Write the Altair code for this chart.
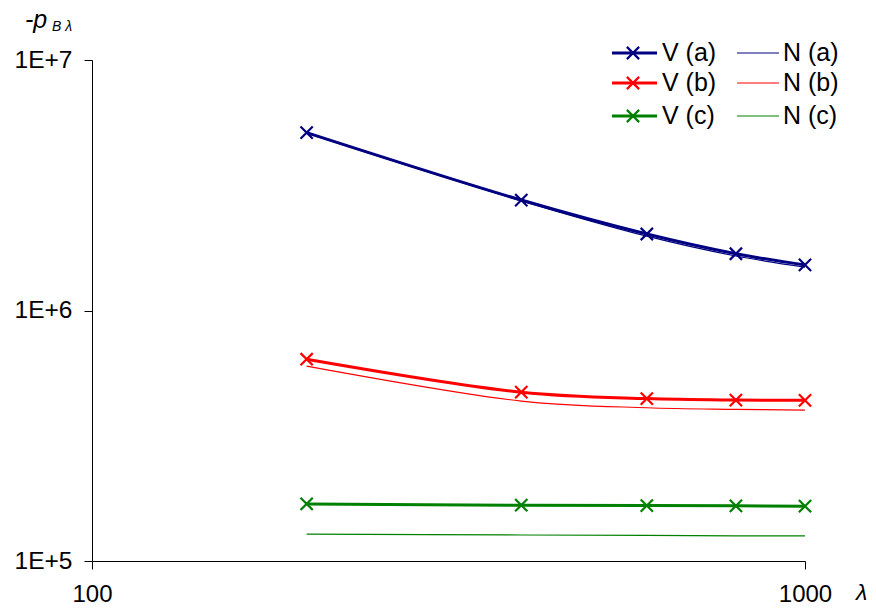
import altair as alt
import pandas as pd

# ---- data ----
lam = [200, 400, 600, 800, 1000]
groups = ["a", "b", "c"]
v_a = [5.13e6, 2.76e6, 2.02e6, 1.685e6, 1.52e6]
n_a = [5.10e6, 2.74e6, 1.98e6, 1.65e6, 1.49e6]
v_b = [6.39e5, 4.72e5, 4.45e5, 4.39e5, 4.38e5]
n_b = [6.00e5, 4.35e5, 4.09e5, 4.03e5, 4.00e5]
v_c = [1.69e5, 1.67e5, 1.665e5, 1.66e5, 1.655e5]
n_c = [1.28e5, 1.27e5, 1.265e5, 1.26e5, 1.26e5]
colors = ["#000080", "#ff0000", "#008000"]
y_ticks = [1e5, 1e6, 1e7]
x_ticks = [100, 1000]

rows = []
for g, vs, ns in zip(groups, [v_a, v_b, v_c], [n_a, n_b, n_c]):
    for x, v, n in zip(lam, vs, ns):
        rows.append({"lam": x, "val": v, "grp": g, "kind": "V"})
        rows.append({"lam": x, "val": n, "grp": g, "kind": "N"})
df = pd.DataFrame(rows)

FONT = "Liberation Sans"
W, H = 713, 501

xs = alt.X("lam:Q", scale=alt.Scale(type="log", domain=[100, 1000]),
           axis=alt.Axis(values=x_ticks, format="d", title=None, grid=False,
                         tickSize=8, labelPadding=13, labelFontSize=24,
                         labelFont=FONT, labelColor="black", domainColor="black",
                         tickColor="black", labelFlush=False))
ys = alt.Y("val:Q", scale=alt.Scale(type="log", domain=[1e5, 1e7]),
           axis=alt.Axis(values=y_ticks, title=None, grid=False,
                         labelExpr="'1E+' + round(log(datum.value)/LN10)",
                         tickSize=8, labelPadding=12, labelFontSize=24.5,
                         labelFont=FONT, labelColor="black", domainColor="black",
                         tickColor="black"))
col = alt.Color("grp:N", scale=alt.Scale(domain=groups, range=colors), legend=None)

base = alt.Chart(df)
n_lines = base.transform_filter("datum.kind == 'N'").mark_line(
    strokeWidth=1.2, interpolate="catmull-rom").encode(x=xs, y=ys, color=col, detail="grp:N")
v_lines = base.transform_filter("datum.kind == 'V'").mark_line(
    strokeWidth=3, interpolate="catmull-rom").encode(x=xs, y=ys, color=col, detail="grp:N")
v_pts = base.transform_filter("datum.kind == 'V'").mark_point(
    shape="M-1,-1L1,1M-1,1L1,-1", filled=False, strokeWidth=2.2, size=150, opacity=1
).encode(x=xs, y=ys, color=col)

one = pd.DataFrame({"k": [0]})
layers = [n_lines, v_lines, v_pts]

# legend (manual)
row_y = [-7, 23, 56]
for i, g in enumerate(groups):
    c = colors[i]
    yy = row_y[i]
    layers.append(alt.Chart(one).mark_rule(color=c, strokeWidth=3).encode(
        x=alt.value(520), x2=alt.value(565), y=alt.value(yy)))
    layers.append(alt.Chart(one).mark_point(
        shape="M-1,-1L1,1M-1,1L1,-1", filled=False, strokeWidth=2.2, size=150,
        color=c, opacity=1).encode(x=alt.value(541), y=alt.value(yy)))
    layers.append(alt.Chart(one).mark_text(
        text=f"V ({g})", align="left", baseline="middle", fontSize=25, font=FONT,
        color="black").encode(x=alt.value(570), y=alt.value(yy)))
    layers.append(alt.Chart(one).mark_rule(color=c, strokeWidth=1.2).encode(
        x=alt.value(645), x2=alt.value(687), y=alt.value(yy)))
    layers.append(alt.Chart(one).mark_text(
        text=f"N ({g})", align="left", baseline="middle", fontSize=25, font=FONT,
        color="black").encode(x=alt.value(691), y=alt.value(yy)))

# axis titles
layers.append(alt.Chart(one).mark_text(
    text="-p", align="left", baseline="alphabetic", fontSize=25, font=FONT,
    fontStyle="italic", color="black").encode(x=alt.value(-67), y=alt.value(-32)))
layers.append(alt.Chart(one).mark_text(
    text="B λ", align="left", baseline="alphabetic", fontSize=14, font=FONT,
    fontStyle="italic", color="black").encode(x=alt.value(-40), y=alt.value(-29)))
layers.append(alt.Chart(one).mark_text(
    text="λ", align="left", baseline="alphabetic", fontSize=23, font=FONT,
    fontStyle="italic", color="black").encode(x=alt.value(764), y=alt.value(540)))

chart = alt.layer(*layers).properties(
    width=W, height=H,
    autosize=alt.AutoSizeParams(type="none"),
    padding={"left": 84, "top": 52, "right": 63, "bottom": 41},
    background="white",
).configure_view(stroke=None).configure_axis(domainWidth=1, tickWidth=1)

chart.save("out.html", embed_options={"renderer": "svg", "actions": False})
